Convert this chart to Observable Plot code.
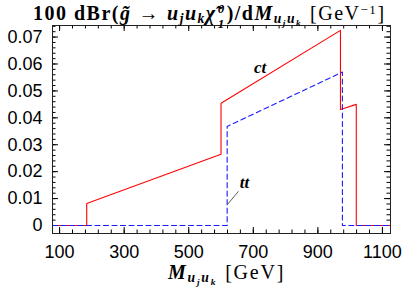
<!DOCTYPE html>
<html>
<head>
<meta charset="utf-8">
<script src="https://cdn.jsdelivr.net/npm/d3@7"></script>
<script src="https://cdn.jsdelivr.net/npm/@observablehq/plot@0.6"></script>
<style>
  html, body { margin: 0; padding: 0; background: #fff; }
  #wrap { position: relative; width: 406px; height: 289px; overflow: hidden; }
  #title { position: absolute; left: 33px; top: 3px; font-family: "Liberation Serif", serif; font-size: 20px; line-height: 20px; white-space: nowrap; color: #000; letter-spacing: 1.5px; }
  #xlabel { position: absolute; left: 168px; top: 262px; font-family: "Liberation Serif", serif; font-size: 20px; line-height: 20px; white-space: nowrap; color: #000; letter-spacing: 1.8px; }
  .bi { font-weight: bold; font-style: italic; }
  .b { font-weight: bold; }
  .sub { font-size: 0.68em; position: relative; top: 0.25em; line-height: 0; }
  .sup { font-size: 0.65em; position: relative; top: -0.45em; line-height: 0; }
  .scr { display: inline-block; position: relative; width: 0.5em; height: 0; }
  .scr .sp { position: absolute; left: 0.08em; bottom: 0.38em; font-size: 0.65em; line-height: 1; }
  .scr .sb { position: absolute; left: 0.08em; top: -0.26em; font-size: 0.65em; line-height: 1; }
  .arr { margin: 0 0.35em; font-weight: bold; }
  .gap { margin-left: 0.4em; }
</style>
</head>
<body>
<div id="wrap">
  <div id="chart"></div>
  <div id="title"><span class="b">100 dBr(</span><span class="bi">g̃</span><span class="arr">→</span><span class="bi">u<span class="sub">j</span>u<span class="sub">k</span>χ̃</span><span class="bi scr"><span class="sp">0</span><span class="sb">1</span></span><span class="b">)/d</span><span class="bi">M<span class="sub">u<span class="sub">j</span>u<span class="sub">k</span></span></span><span class="gap">[GeV<span class="sup">−1</span>]</span></div>
  <div id="xlabel"><span class="bi">M<span class="sub">u<span class="sub">j</span>u<span class="sub">k</span></span></span><span class="gap">[GeV]</span></div>
</div>
<script>
// ct curve (red, solid)
const ctMass = [78, 184, 184, 600, 600, 970, 970, 1019, 1019, 1125];
const ctRate = [0, 0, 0.0082, 0.0265, 0.0454, 0.0725, 0.0431, 0.0450, 0, 0];
// tt curve (blue, dashed)
const ttMass = [78, 619, 619, 976, 976, 1125];
const ttRate = [0, 0, 0.0368, 0.0570, 0, 0];

const xTickValues = [100, 300, 500, 700, 900, 1100];
const xTickLabels = ["100", "300", "500", "700", "900", "1100"];
const yTickValues = [0, 0.01, 0.02, 0.03, 0.04, 0.05, 0.06, 0.07];
const yTickLabels = ["0", "0.01", "0.02", "0.03", "0.04", "0.05", "0.06", "0.07"];
const xMinor = d3.range(100, 1101, 40);
const yMinor = d3.range(0, 38).map(i => +(i * 0.002).toFixed(3)).filter(v => v <= 0.074);

const labels = [
  {mass: 721, rate: 0.0585, text: "ct"},
  {mass: 673, rate: 0.0158, text: "tt"}
];
const leader = [{x1: 620, y1: 0.0078, x2: 654, y2: 0.0127}];

const ct = ctMass.map((m, i) => ({mass: m, rate: ctRate[i]}));
const tt = ttMass.map((m, i) => ({mass: m, rate: ttRate[i]}));

const xFmt = d => xTickLabels[xTickValues.indexOf(d)];
const yFmt = d => yTickLabels[yTickValues.indexOf(d)];

const W = 406, H = 289, mL = 52, mR = 16, mT = 25, mB = 56;
const fw = W - mL - mR, fh = H - mT - mB;
const xDom = [78, 1125], yDom = [-0.00297, 0.0743];
const kx = (xDom[1] - xDom[0]) / fw;  // data units per pixel
const ky = (yDom[1] - yDom[0]) / fh;
const minorLen = 3.5, majorLen = 6;

const xTickRules = (vals, len) => [
  Plot.ruleX(vals, {x: d => d, y1: yDom[0], y2: yDom[0] + len * ky, stroke: "#000"}),
  Plot.ruleX(vals, {x: d => d, y1: yDom[1], y2: yDom[1] - len * ky, stroke: "#000"})
];
const yTickRules = (vals, len) => [
  Plot.ruleY(vals, {y: d => d, x1: xDom[0], x2: xDom[0] + len * kx, stroke: "#000"}),
  Plot.ruleY(vals, {y: d => d, x1: xDom[1], x2: xDom[1] - len * kx, stroke: "#000"})
];

const plot = Plot.plot({
  width: W,
  height: H,
  marginLeft: mL,
  marginRight: mR,
  marginTop: mT,
  marginBottom: mB,
  style: {fontFamily: "'Liberation Sans', Arial, sans-serif", fontSize: "18px", color: "#000", background: "#fff"},
  x: {domain: xDom},
  y: {domain: yDom},
  marks: [
    ...xTickRules(xMinor, minorLen),
    ...yTickRules(yMinor, minorLen),
    ...xTickRules(xTickValues, majorLen),
    ...yTickRules(yTickValues, majorLen),
    Plot.axisX({ticks: xTickValues, anchor: "bottom", tickSize: 0, tickPadding: 12, tickFormat: xFmt, label: null, fill: "#000"}),
    Plot.axisY({ticks: yTickValues, anchor: "left", tickSize: 0, tickPadding: 10, tickFormat: yFmt, label: null, fill: "#000"}),
    Plot.line(ct, {x: "mass", y: "rate", stroke: "#ff0000", strokeWidth: 1.1}),
    Plot.line(tt, {x: "mass", y: "rate", stroke: "#1a1aff", strokeWidth: 1.1, strokeDasharray: "5,3.5"}),
    Plot.link(leader, {x1: "x1", y1: "y1", x2: "x2", y2: "y2", stroke: "#333", strokeWidth: 0.8}),
    Plot.text(labels, {x: "mass", y: "rate", text: "text", fontFamily: "'Liberation Serif', serif", fontStyle: "italic", fontWeight: "bold", fontSize: 17, fill: "#000"}),
    Plot.frame({stroke: "#222", strokeWidth: 1})
  ]
});
document.getElementById("chart").appendChild(plot);
</script>
</body>
</html>
